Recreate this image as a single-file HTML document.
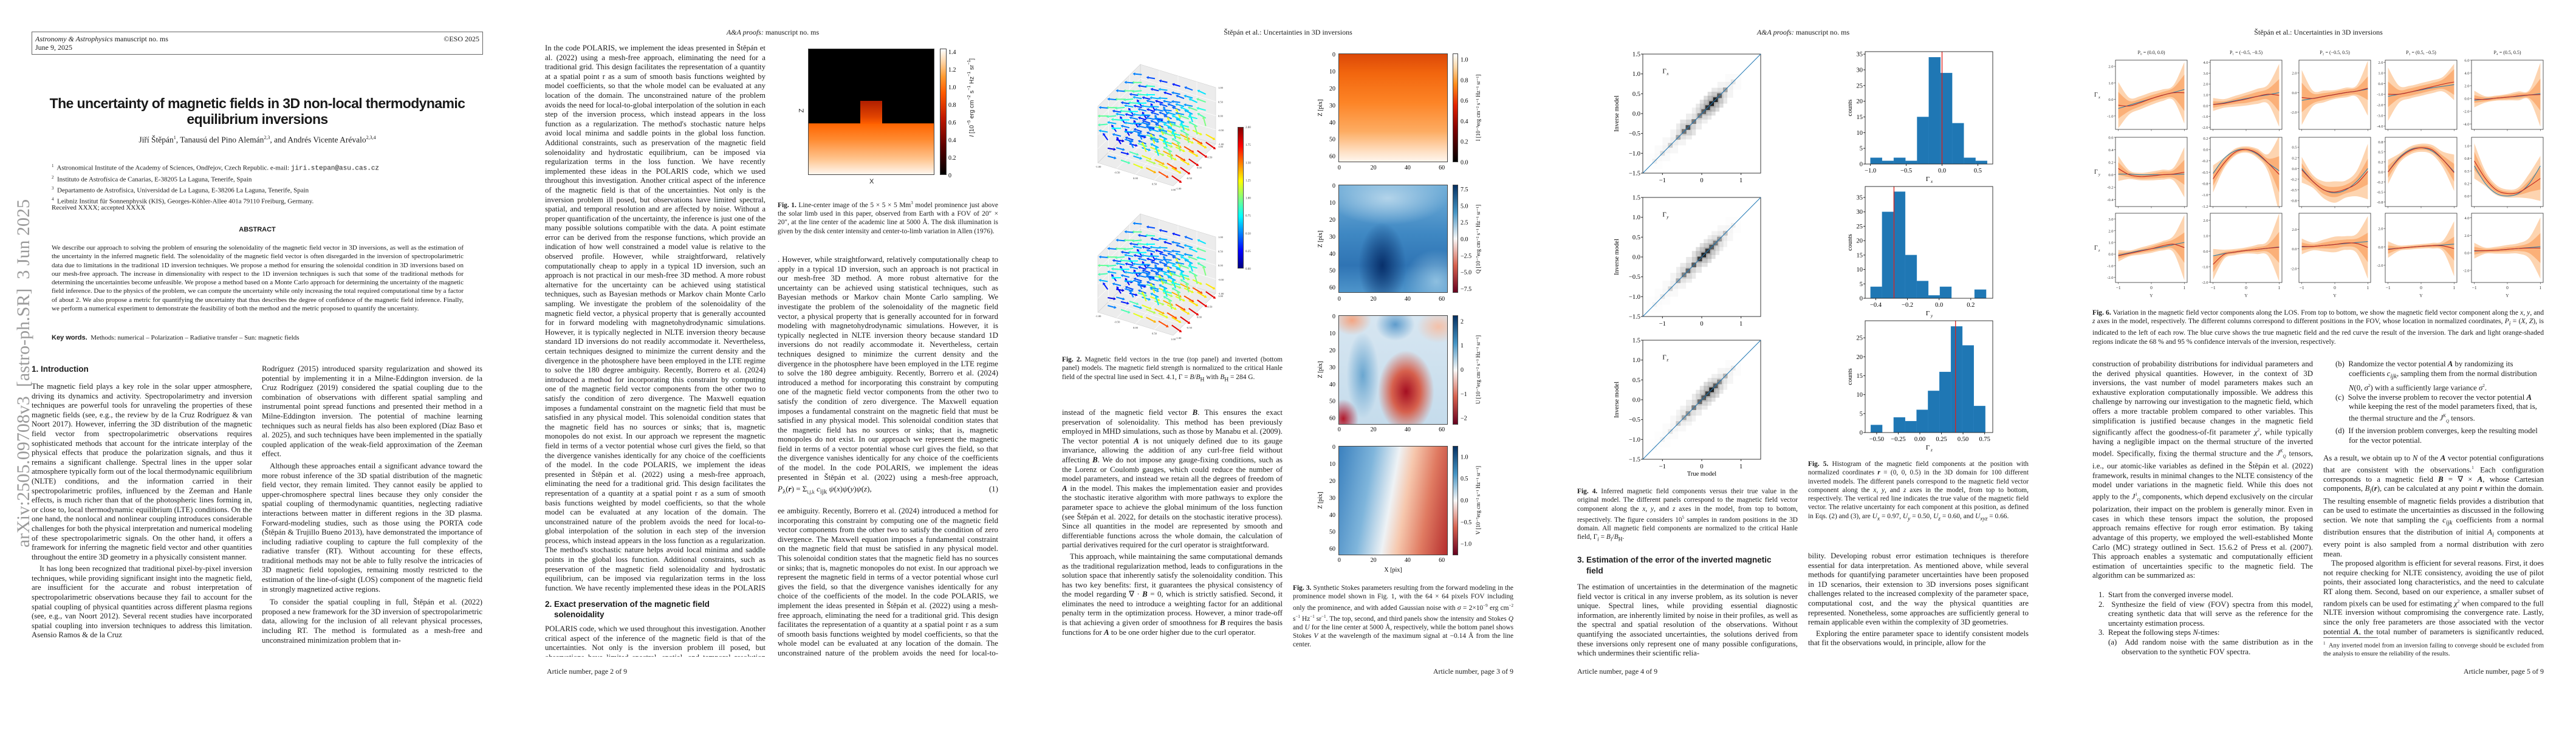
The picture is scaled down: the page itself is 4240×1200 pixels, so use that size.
<!DOCTYPE html>
<html lang="en"><head><meta charset="utf-8">
<style>
body{margin:0;width:4240px;height:1200px;position:relative;background:#fff;overflow:hidden;font-family:"Liberation Serif",serif;color:#1a1a1a}
.a{position:absolute}
.col{position:absolute;width:363px;font-size:12.8px;line-height:15.6px;text-align:justify;hyphens:auto;overflow:hidden}
.col p{margin:0;text-indent:13px}
.col p.ni{text-indent:0}
.cap{position:absolute;font-size:11.4px;line-height:14.3px;text-align:justify;hyphens:auto;overflow:hidden}
.hdr{position:absolute;top:46px;width:848px;text-align:center;font-size:12px}
.ftr{position:absolute;top:1098px;font-size:12px}
.sans{font-family:"Liberation Sans",sans-serif}
.hm{position:absolute;border:1px solid #444;box-sizing:border-box}
.cb{position:absolute;border:1px solid #444;box-sizing:border-box}
</style></head><body>

<!-- ============ PAGE 1 ============ -->
<div class="a" style="left:0;top:0;width:848px;height:1200px">
  <div class="a" style="left:52px;top:52px;width:743px;height:38px;border:1px solid #666;box-sizing:border-box;font-size:12px;line-height:14px;padding:4px 5px">
    <div><i>Astronomy &amp; Astrophysics</i> manuscript no. ms</div><div>June 9, 2025</div>
    <div class="a" style="right:5px;top:4px">©ESO 2025</div>
  </div>
  <div class="a sans" style="left:52px;top:157px;width:743px;text-align:center;font-size:23px;font-weight:bold;line-height:26px;letter-spacing:-0.6px">The uncertainty of magnetic fields in 3D non-local thermodynamic<br>equilibrium inversions</div>
  <div class="a" style="left:52px;top:222px;width:743px;text-align:center;font-size:13.5px">Jiří Štěpán<sup style="font-size:8px">1</sup>, Tanausú del Pino Alemán<sup style="font-size:8px">2,3</sup>, and Andrés Vicente Arévalo<sup style="font-size:8px">2,3,4</sup></div>
  <div class="a" style="left:85px;top:266px;width:700px;font-size:11px;line-height:14.3px">
    <div><sup style="font-size:7px">1</sup>&nbsp; Astronomical Institute of the Academy of Sciences, Ondřejov, Czech Republic. e-mail: <span style="font-family:'Liberation Mono',monospace">jiri.stepan@asu.cas.cz</span></div>
    <div><sup style="font-size:7px">2</sup>&nbsp; Instituto de Astrofísica de Canarias, E-38205 La Laguna, Tenerife, Spain</div>
    <div><sup style="font-size:7px">3</sup>&nbsp; Departamento de Astrofísica, Universidad de La Laguna, E-38206 La Laguna, Tenerife, Spain</div>
    <div><sup style="font-size:7px">4</sup>&nbsp; Leibniz Institut für Sonnenphysik (KIS), Georges-Köhler-Allee 401a 79110 Freiburg, Germany.</div>
  </div>
  <div class="a" style="left:85px;top:336px;font-size:11px">Received XXXX; accepted XXXX</div>
  <div class="a sans" style="left:52px;top:372px;width:743px;text-align:center;font-size:11px;font-weight:bold">ABSTRACT</div>
  <div class="cap" style="left:85px;top:401px;width:678px;font-size:11px;line-height:14.3px">We describe our approach to solving the problem of ensuring the solenoidality of the magnetic field vector in 3D inversions, as well as the estimation of the uncertainty in the inferred magnetic field. The solenoidality of the magnetic field vector is often disregarded in the inversion of spectropolarimetric data due to limitations in the traditional 1D inversion techniques. We propose a method for ensuring the solenoidal condition in 3D inversions based on our mesh-free approach. The increase in dimensionality with respect to the 1D inversion techniques is such that some of the traditional methods for determining the uncertainties become unfeasible. We propose a method based on a Monte Carlo approach for determining the uncertainty of the magnetic field inference. Due to the physics of the problem, we can compute the uncertainty while only increasing the total required computational time by a factor of about 2. We also propose a metric for quantifying the uncertainty that thus describes the degree of confidence of the magnetic field inference. Finally, we perform a numerical experiment to demonstrate the feasibility of both the method and the metric proposed to quantify the uncertainty.</div>
  <div class="a" style="left:85px;top:550px;font-size:11px"><b class="sans">Key words.</b>&nbsp; Methods: numerical – Polarization – Radiative transfer – Sun: magnetic fields</div>
  <div class="a sans" style="left:52px;top:600px;font-size:13.5px;font-weight:bold">1. Introduction</div>
  <div class="col" style="left:52px;top:629px;height:452px">
    <p class="ni">The magnetic field plays a key role in the solar upper atmosphere, driving its dynamics and activity. Spectropolarimetry and inversion techniques are powerful tools for unraveling the properties of these magnetic fields (see, e.g., the review by de la Cruz Rodríguez &amp; van Noort 2017). However, inferring the 3D distribution of the magnetic field vector from spectropolarimetric observations requires sophisticated methods that account for the intricate interplay of the physical effects that produce the polarization signals, and thus it remains a significant challenge. Spectral lines in the upper solar atmosphere typically form out of the local thermodynamic equilibrium (NLTE) conditions, and the information carried in their spectropolarimetric profiles, influenced by the Zeeman and Hanle effects, is much richer than that of the photospheric lines forming in, or close to, local thermodynamic equilibrium (LTE) conditions. On the one hand, the nonlocal and nonlinear coupling introduces considerable challenges for both the physical interpretation and numerical modeling of these spectropolarimetric signals. On the other hand, it offers a framework for inferring the magnetic field vector and other quantities throughout the entire 3D geometry in a physically consistent manner.</p>
    <p style="margin-top:4px">It has long been recognized that traditional pixel-by-pixel inversion techniques, while providing significant insight into the magnetic field, are insufficient for the accurate and robust interpretation of spectropolarimetric observations because they fail to account for the spatial coupling of physical quantities across different plasma regions (see, e.g., van Noort 2012). Several recent studies have incorporated spatial coupling into inversion techniques to address this limitation. Asensio Ramos &amp; de la Cruz</p>
  </div>
  <div class="col" style="left:431px;top:600px;height:481px">
    <p class="ni">Rodríguez (2015) introduced sparsity regularization and showed its potential by implementing it in a Milne-Eddington inversion. de la Cruz Rodríguez (2019) considered the spatial coupling due to the combination of observations with different spatial sampling and instrumental point spread functions and presented their method in a Milne-Eddington inversion. The potential of machine learning techniques such as neural fields has also been explored (Díaz Baso et al. 2025), and such techniques have been implemented in the spatially coupled application of the weak-field approximation of the Zeeman effect.</p>
    <p style="margin-top:4px">Although these approaches entail a significant advance toward the more robust inference of the 3D spatial distribution of the magnetic field vector, they remain limited. They cannot easily be applied to upper-chromosphere spectral lines because they only consider the spatial coupling of thermodynamic quantities, neglecting radiative interactions between matter in different regions in the 3D plasma. Forward-modeling studies, such as those using the PORTA code (Štěpán &amp; Trujillo Bueno 2013), have demonstrated the importance of including radiative coupling to capture the full complexity of the radiative transfer (RT). Without accounting for these effects, traditional methods may not be able to fully resolve the intricacies of 3D magnetic field topologies, remaining mostly restricted to the estimation of the line-of-sight (LOS) component of the magnetic field in strongly magnetized active regions.</p>
    <p style="margin-top:6px">To consider the spatial coupling in full, Štěpán et al. (2022) proposed a new framework for the 3D inversion of spectropolarimetric data, allowing for the inclusion of all relevant physical processes, including RT. The method is formulated as a mesh-free and unconstrained minimization problem that in-</p>
  </div>
  <div class="ftr" style="right:3445px">Article number, page 1 of 9</div>
  <div class="a" style="left:22px;top:328px;writing-mode:vertical-rl;transform:rotate(180deg);white-space:nowrap;font-size:30px;line-height:34px;color:#9a9a9a">arXiv:2505.09708v3&nbsp; [astro-ph.SR]&nbsp; 3 Jun 2025</div>
</div>

<!-- ============ PAGE 2 ============ -->
<div class="hdr" style="left:848px"><i>A&amp;A proofs:</i> manuscript no. ms</div>
<div class="col fill" data-off="0" style="left:897px;top:72px;height:905px"></div>
<div class="a sans" style="left:897px;top:986px;width:363px;font-size:13.5px;font-weight:bold;line-height:17px">2. Exact preservation of the magnetic field<br>&nbsp;&nbsp;&nbsp;&nbsp;solenoidality</div>
<div class="col fill" data-off="900" style="left:897px;top:1028px;height:53px"></div>
<div class="hm" style="left:1330px;top:80px;width:208px;height:208px;background:linear-gradient(#000 0,#000 59%,#ff6400 59.5%,#ff8a30 72%,#ffc590 88%,#fff7f0 100%)">
  <div class="a" style="left:85px;top:85px;width:36px;height:38px;background:linear-gradient(#b01e00,#e24400 70%,#ff5f00)"></div>
</div>
<div class="cb" style="left:1547px;top:80px;width:11px;height:208px;background:linear-gradient(to top,#000 0%,#5a0000 22%,#c01800 45%,#ff5a00 65%,#ff9a30 78%,#ffd5a8 90%,#fff 100%)"></div>
<div class="a sans" style="left:1316px;top:176px;font-size:11px;transform:rotate(-90deg)">Z</div>
<div class="a sans" style="left:1431px;top:293px;font-size:11px">X</div>
<div class="a sans" style="left:1592px;top:96px;writing-mode:vertical-rl;transform:rotate(180deg);white-space:nowrap;font-size:10px"><i>I</i> [10<sup style="font-size:7px">−5</sup> erg cm<sup style="font-size:7px">−2</sup> s<sup style="font-size:7px">−1</sup> Hz<sup style="font-size:7px">−1</sup> sr<sup style="font-size:7px">−1</sup>]</div>
<div class="cap" style="left:1280px;top:327px;width:363px"><b>Fig. 1.</b> Line-center image of the 5 × 5 × 5 Mm<sup style="font-size:7px">3</sup> model prominence just above the solar limb used in this paper, observed from Earth with a FOV of 20″ × 20″, at the line center of the academic line at 5000 Å. The disk illumination is given by the disk center intensity and center-to-limb variation in Allen (1976).</div>
<div class="col fill" data-off="1500" style="left:1280px;top:420px;height:373px"></div>
<div class="a" style="left:1280px;top:797px;width:363px;font-size:13px"><i>P</i><sub>λ</sub>(<b><i>r</i></b>) = Σ<sub style="font-size:8px">i,j,k</sub> <i>c</i><sub>ijk</sub> <i>ψ</i>(<i>x</i>)<i>ψ</i>(<i>y</i>)<i>ψ</i>(<i>z</i>),<span style="float:right">(1)</span></div>
<div class="col fill" data-off="2300" style="left:1280px;top:834px;height:247px"></div>
<div class="ftr" style="left:900px">Article number, page 2 of 9</div>

<!-- ============ PAGE 3 ============ -->
<div class="hdr" style="left:1696px">Štěpán et al.: Uncertainties in 3D inversions</div>
<div class="cb" style="left:2037px;top:209px;width:10px;height:233px;background:linear-gradient(to top,#000080 0%,#0000ff 12%,#00ffff 37%,#ffff00 62%,#ff0000 87%,#800000 100%)"></div>
<div class="cap" style="left:1748px;top:585px;width:363px"><b>Fig. 2.</b> Magnetic field vectors in the true (top panel) and inverted (bottom panel) models. The magnetic field strength is normalized to the critical Hanle field of the spectral line used in Sect. 4.1, Γ = <i>B</i>/<i>B</i><sub>H</sub> with <i>B</i><sub>H</sub> = 284 G.</div>
<div class="col" style="left:1748px;top:672px;height:409px">
  <p class="ni">instead of the magnetic field vector <b><i>B</i></b>. This ensures the exact preservation of solenoidality. This method has been previously employed in MHD simulations, such as those by Manabu et al. (2009). The vector potential <b><i>A</i></b> is not uniquely defined due to its gauge invariance, allowing the addition of any curl-free field without affecting <b><i>B</i></b>. We do not impose any gauge-fixing conditions, such as the Lorenz or Coulomb gauges, which could reduce the number of model parameters, and instead we retain all the degrees of freedom of <b><i>A</i></b> in the model. This makes the implementation easier and provides the stochastic iterative algorithm with more pathways to explore the parameter space to achieve the global minimum of the loss function (see Štěpán et al. 2022, for details on the stochastic iterative process). Since all quantities in the model are represented by smooth and differentiable functions across the whole domain, the calculation of partial derivatives required for the curl operator is straightforward.</p>
  <p style="margin-top:3px">This approach, while maintaining the same computational demands as the traditional regularization method, leads to configurations in the solution space that inherently satisfy the solenoidality condition. This has two key benefits: first, it guarantees the physical consistency of the model regarding ∇ · <b><i>B</i></b> = 0, which is strictly satisfied. Second, it eliminates the need to introduce a weighting factor for an additional penalty term in the optimization process. However, a minor trade-off is that achieving a given order of smoothness for <b><i>B</i></b> requires the basis functions for <b><i>A</i></b> to be one order higher due to the curl operator.</p>
</div>
<div class="hm" style="left:2203px;top:88px;width:180px;height:179px;background:linear-gradient(#dc4808,#f2660e 18%,#fd8426 45%,#fdac62 72%,#fee3ca 92%,#fff6ee 100%)"></div>
<div class="hm" style="left:2203px;top:304px;width:180px;height:178px;background:radial-gradient(ellipse 22% 40% at 40% 75%,#08306b,rgba(8,48,107,0) 100%),radial-gradient(ellipse 55% 25% at 45% 12%,#b3d4ea,rgba(179,212,234,0) 100%),radial-gradient(ellipse 30% 30% at 90% 90%,#8dbfe0,rgba(141,191,224,0) 100%),linear-gradient(#74b0d9,#3f88c3 45%,#2f74b4 75%,#4e95cb)"></div>
<div class="hm" style="left:2203px;top:519px;width:180px;height:180px;background:radial-gradient(ellipse 26% 38% at 62% 70%,#a50f22,#d6604d 50%,rgba(244,165,130,0) 100%),radial-gradient(ellipse 14% 18% at 4% 95%,#b2182b,rgba(214,96,77,0) 100%),radial-gradient(ellipse 18% 14% at 12% 4%,#f4a582,rgba(244,165,130,0) 100%),radial-gradient(ellipse 20% 15% at 92% 10%,#f4c0a8,rgba(244,165,130,0) 100%),radial-gradient(ellipse 15% 40% at 22% 55%,#6aa6d0,rgba(106,166,208,0) 100%),radial-gradient(ellipse 18% 15% at 52% 8%,#5e9ccc,rgba(94,156,204,0) 100%),linear-gradient(#d7e6f1,#c5dcec)"></div>
<div class="hm" style="left:2203px;top:734px;width:180px;height:180px;background:linear-gradient(100deg,#3a80be 0%,#7fb5db 28%,#eef2f5 48%,#f6c7ad 60%,#e07b62 78%,#b52e2e 100%)"></div>
<div class="cb" style="left:2391px;top:88px;width:9px;height:179px;background:linear-gradient(to top,#000,#7f0000 30%,#e02000 52%,#ff8c1a 72%,#ffd8a8 88%,#fff)"></div>
<div class="cb" style="left:2391px;top:304px;width:9px;height:178px;background:linear-gradient(to top,#67001f,#d6604d 25%,#f7f7f7 50%,#4393c3 75%,#053061)"></div>
<div class="cb" style="left:2391px;top:519px;width:9px;height:180px;background:linear-gradient(to top,#67001f,#d6604d 25%,#f7f7f7 50%,#4393c3 75%,#053061)"></div>
<div class="cb" style="left:2391px;top:734px;width:9px;height:180px;background:linear-gradient(to top,#67001f,#d6604d 25%,#f7f7f7 50%,#4393c3 75%,#053061)"></div>
<div class="cap" style="left:2128px;top:961px;width:363px"><b>Fig. 3.</b> Synthetic Stokes parameters resulting from the forward modeling in the prominence model shown in Fig. 1, with the 64 × 64 pixels FOV including only the prominence, and with added Gaussian noise with <i>σ</i> = 2×10<sup style="font-size:7px">−9</sup> erg cm<sup style="font-size:7px">−2</sup> s<sup style="font-size:7px">−1</sup> Hz<sup style="font-size:7px">−1</sup> sr<sup style="font-size:7px">−1</sup>. The top, second, and third panels show the intensity and Stokes <i>Q</i> and <i>U</i> for the line center at 5000 Å, respectively, while the bottom panel shows Stokes <i>V</i> at the wavelength of the maximum signal at −0.14 Å from the line center.</div>
<div class="ftr" style="right:1749px">Article number, page 3 of 9</div>

<!-- ============ PAGE 4 ============ -->
<div class="hdr" style="left:2544px"><i>A&amp;A proofs:</i> manuscript no. ms</div>
<div class="cap" style="left:2596px;top:802px;width:363px"><b>Fig. 4.</b> Inferred magnetic field components versus their true value in the original model. The different panels correspond to the magnetic field vector component along the <i>x</i>, <i>y</i>, and <i>z</i> axes in the model, from top to bottom, respectively. The figure considers 10<sup style="font-size:7px">5</sup> samples in random positions in the 3D domain. All magnetic field components are normalized to the critical Hanle field, Γ<sub><i>i</i></sub> = <i>B<sub>i</sub></i>/<i>B</i><sub>H</sub>.</div>
<div class="cap" style="left:2976px;top:757px;width:363px"><b>Fig. 5.</b> Histogram of the magnetic field components at the position with normalized coordinates <b><i>r</i></b> = (0, 0, 0.5) in the 3D domain for 100 different inverted models. The different panels correspond to the magnetic field vector component along the <i>x</i>, <i>y</i>, and <i>z</i> axes in the model, from top to bottom, respectively. The vertical red line indicates the true value of the magnetic field vector. The relative uncertainty for each component at this position, as defined in Eqs. (2) and (3), are <i>U<sub>x</sub></i> = 0.97, <i>U<sub>y</sub></i> = 0.50, <i>U<sub>z</sub></i> = 0.60, and <i>U<sub>xyz</sub></i> = 0.66.</div>
<div class="a sans" style="left:2596px;top:913px;width:370px;font-size:13.5px;font-weight:bold;line-height:18px">3. Estimation of the error of the inverted magnetic<br>&nbsp;&nbsp;&nbsp;&nbsp;field</div>
<div class="col" style="left:2596px;top:959px;height:122px">
  <p class="ni">The estimation of uncertainties in the determination of the magnetic field vector is critical in any inverse problem, as its solution is never unique. Spectral lines, while providing essential diagnostic information, are inherently limited by noise in their profiles, as well as the spectral and spatial resolution of the observations. Without quantifying the associated uncertainties, the solutions derived from these inversions only represent one of many possible configurations, which undermines their scientific relia-</p>
</div>
<div class="col" style="left:2976px;top:908px;height:173px">
  <p class="ni">bility. Developing robust error estimation techniques is therefore essential for data interpretation. As mentioned above, while several methods for quantifying parameter uncertainties have been proposed in 1D scenarios, their extension to 3D inversions poses significant challenges related to the increased complexity of the parameter space, computational cost, and the way the physical quantities are represented. Nonetheless, some approaches are sufficiently general to remain applicable even within the complexity of 3D geometries.</p>
  <p style="margin-top:3px">Exploring the entire parameter space to identify consistent models that fit the observations would, in principle, allow for the</p>
</div>
<div class="ftr" style="left:2596px">Article number, page 4 of 9</div>

<!-- ============ PAGE 5 ============ -->
<div class="hdr" style="left:3392px">Štěpán et al.: Uncertainties in 3D inversions</div>
<div class="cap" style="left:3444px;top:508px;width:743px;font-size:11.6px;line-height:14.4px"><b>Fig. 6.</b> Variation in the magnetic field vector components along the LOS. From top to bottom, we show the magnetic field vector component along the <i>x</i>, <i>y</i>, and <i>z</i> axes in the model, respectively. The different columns correspond to different positions in the FOV, whose location in normalized coordinates, <i>P<sub>i</sub></i> = (<i>X</i>, <i>Z</i>), is indicated to the left of each row. The blue curve shows the true magnetic field and the red curve the result of the inversion. The dark and light orange-shaded regions indicate the 68 % and 95 % confidence intervals of the inversion, respectively.</div>
<div class="col" style="left:3444px;top:592px;height:489px">
  <p class="ni">construction of probability distributions for individual parameters and the derived physical quantities. However, in the context of 3D inversions, the vast number of model parameters makes such an exhaustive exploration computationally impossible. We address this challenge by narrowing our investigation to the magnetic field, which offers a more tractable problem compared to other variables. This simplification is justified because changes in the magnetic field significantly affect the goodness-of-fit parameter <i>χ</i><sup style="font-size:7px">2</sup>, while typically having a negligible impact on the thermal structure of the inverted model. Specifically, fixing the thermal structure and the <i>J<sup style="font-size:7px">K</sup><sub style="font-size:7px">Q</sub></i> tensors, i.e., our atomic-like variables as defined in the Štěpán et al. (2022) framework, results in minimal changes to the NLTE consistency of the model under variations in the magnetic field. While this does not apply to the <i>J</i><sup style="font-size:7px">1</sup><sub style="font-size:7px">Q</sub> components, which depend exclusively on the circular polarization, their impact on the problem is generally minor. Even in cases in which these tensors impact the solution, the proposed approach remains effective for rough error estimation. By taking advantage of this property, we employed the well-established Monte Carlo (MC) strategy outlined in Sect. 15.6.2 of Press et al. (2007). This approach enables a systematic and computationally efficient estimation of uncertainties specific to the magnetic field. The algorithm can be summarized as:</p>
  <div style="margin-top:16px;padding-left:26px;text-indent:-16px">1.&nbsp; Start from the converged inverse model.</div>
  <div style="padding-left:26px;text-indent:-16px">2.&nbsp; Synthesize the field of view (FOV) spectra from this model, creating synthetic data that will serve as the reference for the uncertainty estimation process.</div>
  <div style="padding-left:26px;text-indent:-16px">3.&nbsp; Repeat the following steps <i>N</i>-times:</div>
  <div style="padding-left:48px;text-indent:-22px">(a)&nbsp; Add random noise with the same distribution as in the observation to the synthetic FOV spectra.</div>
</div>
<div class="col" style="left:3824px;top:592px;height:453px">
  <div style="padding-left:42px;text-indent:-22px;text-align:left">(b)&nbsp; Randomize the vector potential <b><i>A</i></b> by randomizing its coefficients <i>c<sub>ijk</sub></i>, sampling them from the normal distribution <i>N</i>(0, <i>σ</i><sup style="font-size:7px">2</sup>) with a sufficiently large variance <i>σ</i><sup style="font-size:7px">2</sup>.</div>
  <div style="padding-left:42px;text-indent:-22px;text-align:left">(c)&nbsp; Solve the inverse problem to recover the vector potential <b><i>A</i></b> while keeping the rest of the model parameters fixed, that is, the thermal structure and the <i>J<sup style="font-size:7px">K</sup><sub style="font-size:7px">Q</sub></i> tensors.</div>
  <div style="padding-left:42px;text-indent:-22px;text-align:left">(d)&nbsp; If the inversion problem converges, keep the resulting model for the vector potential.</div>
  <p class="ni" style="margin-top:14px">As a result, we obtain up to <i>N</i> of the <b><i>A</i></b> vector potential configurations that are consistent with the observations.<sup style="font-size:7px">1</sup> Each configuration corresponds to a magnetic field <b><i>B</i></b> = ∇ × <b><i>A</i></b>, whose Cartesian components, <i>B<sub>i</sub></i>(<b><i>r</i></b>), can be calculated at any point <b><i>r</i></b> within the domain. The resulting ensemble of magnetic fields provides a distribution that can be used to estimate the uncertainties as discussed in the following section. We note that sampling the <i>c<sub>ijk</sub></i> coefficients from a normal distribution ensures that the distribution of initial <i>A<sub>i</sub></i> components at every point is also sampled from a normal distribution with zero mean.</p>
  <p>The proposed algorithm is efficient for several reasons. First, it does not require checking for NLTE consistency, avoiding the use of pilot points, their associated long characteristics, and the need to calculate RT along them. Second, based on our experience, a smaller subset of random pixels can be used for estimating <i>χ</i><sup style="font-size:7px">2</sup> when compared to the full NLTE inversion without compromising the convergence rate. Lastly, since the only free parameters are those associated with the vector potential <b><i>A</i></b>, the total number of parameters is significantly reduced, typically by about a factor of 5 in relatively simple models like the example</p>
</div>
<div class="a" style="left:3824px;top:1049px;width:90px;border-top:1px solid #555"></div>
<div class="cap" style="left:3824px;top:1053px;width:363px;font-size:10.5px;line-height:13px"><sup style="font-size:7px">1</sup>&nbsp; Any inverted model from an inversion failing to converge should be excluded from the analysis to ensure the reliability of the results.</div>
<div class="ftr" style="right:53px">Article number, page 5 of 9</div>

<svg id="gfx" width="4240" height="1200" style="position:absolute;left:0;top:0;pointer-events:none" xmlns="http://www.w3.org/2000/svg"></svg>

<script>
// ---------- shared filler body text for page 2 columns ----------
const BODY = "In the code POLARIS, we implement the ideas presented in Štěpán et al. (2022) using a mesh-free approach, eliminating the need for a traditional grid. This design facilitates the representation of a quantity at a spatial point r as a sum of smooth basis functions weighted by model coefficients, so that the whole model can be evaluated at any location of the domain. The unconstrained nature of the problem avoids the need for local-to-global interpolation of the solution in each step of the inversion process, which instead appears in the loss function as a regularization. The method's stochastic nature helps avoid local minima and saddle points in the global loss function. Additional constraints, such as preservation of the magnetic field solenoidality and hydrostatic equilibrium, can be imposed via regularization terms in the loss function. We have recently implemented these ideas in the POLARIS code, which we used throughout this investigation. Another critical aspect of the inference of the magnetic field is that of the uncertainties. Not only is the inversion problem ill posed, but observations have limited spectral, spatial, and temporal resolution and are affected by noise. Without a proper quantification of the uncertainty, the inference is just one of the many possible solutions compatible with the data. A point estimate error can be derived from the response functions, which provide an indication of how well constrained a model value is relative to the observed profile. However, while straightforward, relatively computationally cheap to apply in a typical 1D inversion, such an approach is not practical in our mesh-free 3D method. A more robust alternative for the uncertainty can be achieved using statistical techniques, such as Bayesian methods or Markov chain Monte Carlo sampling. We investigate the problem of the solenoidality of the magnetic field vector, a physical property that is generally accounted for in forward modeling with magnetohydrodynamic simulations. However, it is typically neglected in NLTE inversion theory because standard 1D inversions do not readily accommodate it. Nevertheless, certain techniques designed to minimize the current density and the divergence in the photosphere have been employed in the LTE regime to solve the 180 degree ambiguity. Recently, Borrero et al. (2024) introduced a method for incorporating this constraint by computing one of the magnetic field vector components from the other two to satisfy the condition of zero divergence. The Maxwell equation imposes a fundamental constraint on the magnetic field that must be satisfied in any physical model. This solenoidal condition states that the magnetic field has no sources or sinks; that is, magnetic monopoles do not exist. In our approach we represent the magnetic field in terms of a vector potential whose curl gives the field, so that the divergence vanishes identically for any choice of the coefficients of the model. ";
document.querySelectorAll('.fill').forEach(function(el){
  const off = parseInt(el.getAttribute('data-off'));
  const t = BODY + BODY + BODY;
  el.textContent = t.slice(off, off + 5200);
});

// ---------- SVG helpers ----------
const NS = 'http://www.w3.org/2000/svg';
const svg = document.getElementById('gfx');
function mk(tag, attrs, parent){ const e = document.createElementNS(NS, tag); for (const k in attrs) e.setAttribute(k, attrs[k]); (parent || svg).appendChild(e); return e; }
function txt(x, y, s, attrs, parent){ const e = mk('text', Object.assign({x: x, y: y}, attrs || {}), parent); e.textContent = s; return e; }
function fmt(v, d){ return (v < 0 ? '\u2212' : '') + Math.abs(v).toFixed(d); }
function lin(d0, d1, r0, r1){ return function(v){ return r0 + (v - d0) / (d1 - d0) * (r1 - r0); }; }
function seg(pts){ let d = ''; const n = pts.length;
  for (let i = 0; i < n - 1; i++){ const p0 = pts[Math.max(i-1,0)], p1 = pts[i], p2 = pts[i+1], p3 = pts[Math.min(i+2,n-1)];
    d += ' C' + (p1[0]+(p2[0]-p0[0])/6).toFixed(1) + ',' + (p1[1]+(p2[1]-p0[1])/6).toFixed(1) + ' ' + (p2[0]-(p3[0]-p1[0])/6).toFixed(1) + ',' + (p2[1]-(p3[1]-p1[1])/6).toFixed(1) + ' ' + p2[0].toFixed(1) + ',' + p2[1].toFixed(1); }
  return d; }
function smoothPath(pts){ return 'M' + pts[0][0].toFixed(1) + ',' + pts[0][1].toFixed(1) + seg(pts); }

// ---------- Fig 1 colorbar ticks ----------
const fig1CbTicks = [0, 0.2, 0.4, 0.6, 0.8, 1.0, 1.2, 1.4];
const fig1Y = lin(0, 1.4, 288, 85);
fig1CbTicks.forEach(function(v){
  const t = txt(1561, fig1Y(v) + 4, v === 0 ? '0' : v.toFixed(1), {'font-size': 10});
  
  
});

// ---------- Fig 2: 3D quiver plots ----------
const quivMag = [
  [0.50,0.40,0.35,0.30,0.45,0.70],
  [0.95,0.85,0.60,0.50,0.60,0.95],
  [0.90,0.75,0.60,0.50,0.55,0.80],
  [0.60,0.50,0.40,0.45,0.60,0.90],
  [0.30,0.25,0.50,1.20,0.70,1.00],
  [0.20,0.30,0.60,1.10,1.20,1.30],
  [0.50,0.90,1.20,1.40,1.60,1.80]];
const quivAng = [195, 190, 185, 200, 245, 20, 25];
const quivDepth = [0.8, 0.4, 0.0, -0.4, -0.8];
function jet(t){ t = Math.max(0, Math.min(1, t));
  const r = Math.max(0, Math.min(1, 1.5 - Math.abs(4*t - 3))), g = Math.max(0, Math.min(1, 1.5 - Math.abs(4*t - 2))), b = Math.max(0, Math.min(1, 1.5 - Math.abs(4*t - 1)));
  return 'rgb(' + Math.round(r*255) + ',' + Math.round(g*255) + ',' + Math.round(b*255) + ')'; }
function quiver(ox, oy, name){
  const ex = [62, 19], ey = [35, -34.5], ez = [0, -46.5];
  const P = function(x, y, z){ return [ox + x*ex[0] + y*ey[0] + z*ez[0], oy + x*ex[1] + y*ey[1] + z*ez[1]]; };
  const g = mk('g', {});
  
  
  const faces = [[[-1,-1,-1],[1,-1,-1],[1,1,-1],[-1,1,-1]], [[-1,1,-1],[1,1,-1],[1,1,1],[-1,1,1]], [[-1,-1,-1],[-1,1,-1],[-1,1,1],[-1,-1,1]]];
  faces.forEach(function(f){ const pts = f.map(function(p){ return P(p[0],p[1],p[2]).join(','); }).join(' ');
    const pg = mk('polygon', {points: pts, fill: '#ececec', stroke: '#d0d0d0', 'stroke-width': 0.6}, g);
    
     });
  [-0.5, 0, 0.5].forEach(function(v){
    [[[v,1,-1],[v,1,1]], [[-1,1,v],[1,1,v]], [[-1,v,-1],[-1,v,1]], [[-1,-1,v],[-1,1,v]], [[v,-1,-1],[v,1,-1]], [[-1,v,-1],[1,v,-1]]].forEach(function(l){
      const a = P(l[0][0],l[0][1],l[0][2]), b = P(l[1][0],l[1][1],l[1][2]);
      const gl = mk('line', {x1: a[0], y1: a[1], x2: b[0], y2: b[1], stroke: '#ffffff', 'stroke-width': 0.7}, g);
      
       }); });
  const xs = [-0.85, -0.5, -0.17, 0.17, 0.5, 0.85], zs = [0.85, 0.57, 0.28, 0, -0.28, -0.57, -0.85];
  quivDepth.forEach(function(yv){
    zs.forEach(function(zv, r){ xs.forEach(function(xv, c){
      const m = quivMag[r][c], p = P(xv, yv, zv), ang = (quivAng[r] + (c - 2.5) * 4) * Math.PI / 180, L = 9 + m * 4;
      const x2 = p[0] + Math.cos(ang) * L, y2 = p[1] + Math.sin(ang) * L, col = jet(m / 2);
      const ln = mk('line', {x1: p[0], y1: p[1], x2: x2, y2: y2, stroke: col, 'stroke-width': 2}, g);
      
      
      const hx = Math.cos(ang), hy = Math.sin(ang);
      const hd = mk('polygon', {points: (x2+hx*4)+','+(y2+hy*4)+' '+(x2-hy*2.5)+','+(y2+hx*2.5)+' '+(x2+hy*2.5)+','+(y2-hx*2.5), fill: col}, g);
      
      
    }); }); });
  [-1, -0.5, 0, 0.5, 1].forEach(function(v){
    const a = P(v, -1, -1); const t = txt(a[0] - 4, a[1] + 8, v.toFixed(2), {'font-size': 4.5, fill: '#333'}, g);
    
    
    const b = P(1, v, -1); const t2 = txt(b[0] + 4, b[1] + 6, v.toFixed(2), {'font-size': 4.5, fill: '#333'}, g);
    
    
    const c = P(1, 1, v); const t3 = txt(c[0] + 4, c[1] + 2, v.toFixed(2), {'font-size': 4.5, fill: '#333'}, g);
    
    
  });
}
quiver(1904, 206, 'fig2-true-field-3d');
quiver(1904, 452, 'fig2-inverted-field-3d');
const fig2CbTicks = [0, 0.25, 0.5, 0.75, 1.0, 1.25, 1.5, 1.75, 2.0];
const fig2CbY = lin(0, 2, 442, 209);
fig2CbTicks.forEach(function(v){
  const t = txt(2050, fig2CbY(v) + 2, v.toFixed(2), {'font-size': 5, fill: '#333'});
  
  
});

// ---------- Fig 3 axes ----------
const fig3Tops = [88, 304, 519, 734];
const fig3PixTicks = [0, 10, 20, 30, 40, 50, 60];
const fig3XTicks = [0, 20, 40, 60];
const fig3CbTicks = [[0.0,0.2,0.4,0.6,0.8,1.0],[-7.5,-5.0,-2.5,0.0,2.5,5.0,7.5],[-2,-1,0,1,2],[-1.0,-0.5,0.0,0.5,1.0]];
const fig3CbRange = [[0,1.06],[-8.2,8.2],[-2.25,2.25],[-1.25,1.25]];
const fig3CbDec = [1,1,0,1];
const fig3Units = ['I [10\u207b\u2075erg cm\u207b\u00b2 s\u207b\u00b9 Hz\u207b\u00b9 sr\u207b\u00b9]','Q [10\u207b\u2077erg cm\u207b\u00b2 s\u207b\u00b9 Hz\u207b\u00b9 sr\u207b\u00b9]','U [10\u207b\u2077erg cm\u207b\u00b2 s\u207b\u00b9 Hz\u207b\u00b9 sr\u207b\u00b9]','V [10\u207b\u2077erg cm\u207b\u00b2 s\u207b\u00b9 Hz\u207b\u00b9 sr\u207b\u00b9]'];
fig3Tops.forEach(function(top, i){
  const h = 179, py = lin(-0.5, 63.5, top, top + h), px = lin(-0.5, 63.5, 2203, 2383);
  fig3PixTicks.forEach(function(v){
    const t = txt(2198, py(v) + 3.5, String(v), {'font-size': 10, 'text-anchor': 'end'});
    
     });
  fig3XTicks.forEach(function(v){
    const t = txt(px(v), top + h + 12, String(v), {'font-size': 10, 'text-anchor': 'middle'});
    
     });
  const yl = txt(2176, top + h/2, 'Z [pix]', {'font-size': 10, 'text-anchor': 'middle', transform: 'rotate(-90 2176 ' + (top + h/2) + ')'});
  
  
  const cy = lin(fig3CbRange[i][0], fig3CbRange[i][1], top + h, top);
  fig3CbTicks[i].forEach(function(v){
    const t = txt(2404, cy(v) + 3.5, fmt(v, fig3CbDec[i]), {'font-size': 10});
    
     });
  const ut = txt(2436, top + h/2, fig3Units[i], {'font-size': 9, 'text-anchor': 'middle', transform: 'rotate(-90 2436 ' + (top + h/2) + ')'});
  
  
});
const f3x = txt(2293, 941, 'X [pix]', {'font-size': 10, 'text-anchor': 'middle'});



// ---------- Fig 4: inverse vs true density plots ----------
const scatPos = [-1.2,-1.0,-0.8,-0.6,-0.45,-0.35,-0.2,-0.05,0.05,0.15,0.25,0.35,0.45,0.6,0.8];
const scatDenX = [0.06,0.12,0.2,0.3,0.5,0.7,0.45,0.4,0.6,0.8,0.95,0.9,0.6,0.3,0.1];
const scatDenY = [0.04,0.08,0.15,0.3,0.45,0.55,0.6,0.75,0.9,0.8,0.6,0.45,0.35,0.2,0.06];
const scatDenZ = [0.02,0.05,0.1,0.18,0.3,0.35,0.45,0.55,0.6,0.75,0.95,0.6,0.4,0.25,0.08];
const scatTicksX = [-1, 0, 1];
const scatTicksY = [-1.5, -1.0, -0.5, 0.0, 0.5, 1.0, 1.5];
const scatLabels = ['x', 'y', 'z'];
const scatTops = [89, 325, 560];
[scatDenX, scatDenY, scatDenZ].forEach(function(den, i){
  const x0 = 2704, x1 = 2898, y0 = scatTops[i], y1 = y0 + 196;
  const sx = lin(-1.5, 1.5, x0, x1), sy = lin(-1.5, 1.5, y1, y0);
  const g = mk('g', {});
  
  
  const fr = mk('rect', {x: x0, y: y0, width: x1 - x0, height: y1 - y0, fill: '#fff', stroke: '#222', 'stroke-width': 0.9}, g);
  
  
  scatPos.forEach(function(t, k){
    const s = 0.2, r = mk('rect', {x: sx(t - s), y: sy(t + s), width: sx(t + s) - sx(t - s), height: sy(t - s) - sy(t + s), fill: '#000', opacity: den[k] * 0.15}, g);
    
    
    const s2 = 0.06, r2 = mk('rect', {x: sx(t - s2), y: sy(t + s2), width: sx(t + s2) - sx(t - s2), height: sy(t - s2) - sy(t + s2), fill: '#000', opacity: den[k] * 0.85}, g);
    
    
  });
  const dl = mk('line', {x1: sx(-1.5), y1: sy(-1.5), x2: sx(1.5), y2: sy(1.5), stroke: '#1f77b4', 'stroke-width': 1}, g);
  
  
  scatTicksX.forEach(function(v){
    const tk = mk('line', {x1: sx(v), y1: y1, x2: sx(v), y2: y1 + 3, stroke: '#222'}, g);
    
    
    const t = txt(sx(v), y1 + 15, fmt(v, 0), {'font-size': 10.5, 'text-anchor': 'middle'}, g);
    
     });
  scatTicksY.forEach(function(v){
    const tk = mk('line', {x1: x0 - 3, y1: sy(v), x2: x0, y2: sy(v), stroke: '#222'}, g);
    
    
    const t = txt(x0 - 4, sy(v) + 3.5, fmt(v, 1), {'font-size': 10.5, 'text-anchor': 'end'}, g);
    
     });
  const gl = txt(sx(-1.0), sy(1.02), '\u0393', {'font-size': 11}, g);
  
  
  const gs = txt(sx(-1.0) + 7, sy(1.02) + 3, scatLabels[i], {'font-size': 7, 'font-style': 'italic'}, g);
  
  
  const yt = txt(2664, (y0 + y1) / 2, 'Inverse model', {'font-size': 10.5, 'text-anchor': 'middle', transform: 'rotate(-90 2664 ' + ((y0 + y1) / 2) + ')'}, g);
  
  
});
const f4x = txt(2801, 783, 'True model', {'font-size': 10.5, 'text-anchor': 'middle'});



// ---------- Fig 5: histograms ----------
const histXCounts = [2,1,2,1,15,34,29,13,2,1];
const histYCounts = [4,30,37,15,6,1,4,0,0,3];
const histZCounts = [2,0,4,3,6,11,16,28,23,7];
const histStarts = [-1.0, -0.433, -0.568];
const histWidths = [0.163, 0.073, 0.1325];
const histTrue = [0.0, -0.285, 0.413];
const histXDom = [[-1.073, 0.708], [-0.467, 0.339], [-0.633, 0.844]];
const histYMax = [35.8, 38.8, 29.5];
const histXTicks = [[-1.0,-0.5,0.0,0.5], [-0.4,-0.2,0.0,0.2], [-0.5,-0.25,0.0,0.25,0.5,0.75]];
const histXDec = [1, 1, 2];
const histCountTicks = [[0,5,10,15,20,25,30,35], [0,5,10,15,20,25,30,35], [0,5,10,15,20,25]];
const histBoxes = [[85, 270], [307, 491], [528, 712]];
[histXCounts, histYCounts, histZCounts].forEach(function(counts, i){
  const x0 = 3070, x1 = 3280, y0 = histBoxes[i][0], y1 = histBoxes[i][1];
  const sx = lin(histXDom[i][0], histXDom[i][1], x0, x1), sy = lin(0, histYMax[i], y1, y0);
  const g = mk('g', {});
  
  
  counts.forEach(function(c, k){
    if (c <= 0) return;
    const a = histStarts[i] + k * histWidths[i], b = a + histWidths[i];
    const r = mk('rect', {x: sx(a), y: sy(c), width: sx(b) - sx(a), height: sy(0) - sy(c), fill: '#1f77b4', stroke: '#2b83c0', 'stroke-width': 0.4}, g);
    
    
  });
  const rl = mk('line', {x1: sx(histTrue[i]), y1: y0, x2: sx(histTrue[i]), y2: y1, stroke: '#e0201b', 'stroke-width': 1.3}, g);
  
  
  const fr = mk('rect', {x: x0, y: y0, width: x1 - x0, height: y1 - y0, fill: 'none', stroke: '#222', 'stroke-width': 0.9}, g);
  
  
  histXTicks[i].forEach(function(v){
    const tk = mk('line', {x1: sx(v), y1: y1, x2: sx(v), y2: y1 + 3, stroke: '#222'}, g);
    
    
    const t = txt(sx(v), y1 + 14, fmt(v, histXDec[i]), {'font-size': 10.5, 'text-anchor': 'middle'}, g);
    
     });
  histCountTicks[i].forEach(function(v){
    const tk = mk('line', {x1: x0 - 3, y1: sy(v), x2: x0, y2: sy(v), stroke: '#222'}, g);
    
    
    const t = txt(x0 - 4, sy(v) + 3.5, String(v), {'font-size': 10.5, 'text-anchor': 'end'}, g);
    
     });
  const yt = txt(3048, (y0 + y1) / 2, 'counts', {'font-size': 10.5, 'text-anchor': 'middle', transform: 'rotate(-90 3048 ' + ((y0 + y1) / 2) + ')'}, g);
  
  
  const xt = txt(3173, y1 + 28, '\u0393', {'font-size': 11, 'text-anchor': 'middle'}, g);
  
  
  const xs2 = txt(3178, y1 + 31, scatLabels[i], {'font-size': 7, 'font-style': 'italic'}, g);
  
  
});

// ---------- Fig 6: field along LOS ----------
const fig6Y = [-1, -0.667, -0.333, 0, 0.333, 0.667, 1];
const fig6True = [
  [-0.55,-0.35,-0.15,0.05,0.25,0.42,0.6],[0.1,0.25,0.45,0.65,0.85,1.0,1.2],[-0.8,-0.6,-0.4,-0.2,0.0,0.15,0.35],[-1.2,-1.0,-0.8,-0.6,-0.4,-0.25,-0.1],[-0.3,-0.1,0.05,0.2,0.35,0.55,0.75],
  [0.01,0.01,0.0,0.0,0.0,0.005,0.01],[-0.53,-0.2,-0.03,0.0,-0.1,-0.3,-0.47],[0.0,-0.3,-0.5,-0.57,-0.5,-0.3,0.0],[0.0,0.35,0.55,0.6,0.52,0.3,0.0],[0.6,0.25,0.05,0.0,0.05,0.25,0.6],
  [-0.1,0.1,0.3,0.45,0.6,0.8,1.0],[-0.3,-0.15,-0.05,0.05,0.12,0.2,0.28],[0.2,0.25,0.35,0.45,0.55,0.65,0.75],[-0.25,-0.15,-0.05,0.05,0.12,0.2,0.3],[0.2,0.25,0.3,0.4,0.5,0.6,0.7]];
const fig6Inv = [
  [-0.35,-0.4,-0.2,0.05,0.25,0.4,0.4],[0.1,0.2,0.4,0.6,0.85,1.05,0.95],[-0.5,-0.6,-0.4,-0.2,0.0,0.15,0.45],[-1.0,-1.0,-0.8,-0.55,-0.3,-0.05,0.15],[-0.1,-0.15,0.05,0.2,0.4,0.55,0.6],
  [0.1,0.0,-0.03,-0.02,0.0,0.01,0.04],[-0.65,-0.3,-0.06,0.0,-0.08,-0.3,-0.55],[-0.03,-0.3,-0.5,-0.55,-0.48,-0.35,-0.07],[0.0,0.33,0.53,0.6,0.55,0.3,-0.02],[0.7,0.35,0.12,0.05,0.07,0.2,0.35],
  [-0.15,0.05,0.25,0.45,0.7,0.85,0.55],[-0.85,-0.2,-0.05,0.05,0.12,0.2,0.25],[0.25,0.25,0.35,0.45,0.6,0.55,0.15],[-0.3,-0.15,-0.05,0.05,0.12,0.1,-0.2],[0.25,0.25,0.3,0.4,0.5,0.55,0.55]];
const fig6W95 = [
  [1.4,0.5,0.4,0.38,0.35,0.45,1.85],[0.6,0.4,0.5,0.6,0.7,0.9,2.9],[2.8,0.8,0.6,0.45,0.5,0.6,2.8],[2.5,0.8,0.6,0.6,0.6,0.7,1.7],[1.3,0.5,0.4,0.5,0.7,0.8,5.0],
  [0.2,0.07,0.06,0.07,0.08,0.1,0.4],[0.3,0.12,0.08,0.07,0.1,0.2,0.85],[0.3,0.15,0.2,0.25,0.2,0.3,0.65],[0.3,0.12,0.1,0.1,0.12,0.2,0.45],[0.35,0.15,0.1,0.08,0.1,0.25,0.45],
  [0.5,0.25,0.3,0.35,0.4,0.7,2.8],[1.0,0.3,0.2,0.2,0.3,0.5,2.2],[0.8,0.4,0.6,0.8,0.7,1.0,3.2],[0.9,0.3,0.25,0.25,0.3,0.6,3.0],[0.9,0.35,0.4,0.5,0.6,1.2,3.5]];
const fig6W68 = [
  [0.8,0.3,0.22,0.2,0.2,0.3,1.1],[0.3,0.2,0.25,0.35,0.4,0.5,1.5],[1.5,0.5,0.35,0.3,0.3,0.35,1.2],[1.2,0.4,0.35,0.35,0.35,0.45,1.2],[0.6,0.3,0.25,0.3,0.4,0.5,2.5],
  [0.1,0.04,0.035,0.04,0.05,0.06,0.2],[0.15,0.07,0.05,0.04,0.06,0.1,0.4],[0.15,0.08,0.1,0.12,0.1,0.15,0.3],[0.15,0.06,0.05,0.05,0.06,0.1,0.22],[0.18,0.08,0.05,0.04,0.05,0.12,0.22],
  [0.25,0.15,0.15,0.2,0.25,0.4,1.3],[0.5,0.15,0.1,0.1,0.15,0.25,1.0],[0.4,0.2,0.3,0.4,0.35,0.5,1.5],[0.45,0.15,0.12,0.12,0.15,0.3,1.3],[0.45,0.2,0.2,0.25,0.3,0.6,1.7]];
const fig6YMin = [-1.81,-2.2,-3.75,-4.3,-4.85, -0.51,-1.26,-0.89,-0.86,-0.21, -2.44,-2.02,-3.43,-3.9,-3.39];
const fig6YMax = [2.37,4.2,3.3,2.2,6.0, 0.6,0.27,0.73,0.86,1.17, 3.5,2.46,3.64,3.67,4.53];
const fig6Ticks = [
  [-1,0,1,2],[-2,-1,0,1,2,3,4],[-2,0,2],[-4,-3,-2,-1,0,1,2],[-4,-2,0,2,4,6],
  [-0.4,-0.2,0,0.2,0.4,0.6],[0.25,0,-0.25,-0.5,-0.75,-1.0,-1.25],[0.5,0.25,0,-0.25,-0.5,-0.75],[0.75,0.5,0.25,0,-0.25,-0.5,-0.75],[1.0,0.75,0.5,0.25,0],
  [-2,-1,0,1,2,3],[-2,-1,0,1,2],[-2,0,2],[-2,0,2],[-2,0,2,4]];
const fig6TickLabels = [null,null,null,null,null,
  ['-0.4','-0.2','0.0','0.2','0.4','0.6'],['0.2','0.0','-0.2','-0.5','-0.8','-1.0','-1.2'],['0.5','0.2','0.0','-0.2','-0.5','-0.8'],['0.8','0.5','0.2','0.0','-0.2','-0.5','-0.8'],['1.0','0.8','0.5','0.2','0.0'],
  null,null,null,null,null];
const fig6Titles = ['P\u2080 = (0.0, 0.0)', 'P\u2081 = (\u22120.5, \u22120.5)', 'P\u2082 = (\u22120.5, 0.5)', 'P\u2083 = (0.5, \u22120.5)', 'P\u2084 = (0.5, 0.5)'];
const fig6RowNames = ['x', 'y', 'z'];
const f6ColX = [3482, 3638, 3784, 3926, 4068];
const f6RowY = [99, 226, 351];
const f6W = 118, f6H = 114;
const defs = mk('defs', {});
for (let p = 0; p < 15; p++){
  const r = Math.floor(p / 5), c = p % 5;
  const x0 = f6ColX[c], y0 = f6RowY[r], x1 = x0 + f6W, y1 = y0 + f6H;
  const sx = lin(-1.085, 1.085, x0, x1), sy = lin(fig6YMin[p], fig6YMax[p], y1, y0);
  const cp = mk('clipPath', {id: 'f6c' + p}, defs);
  mk('rect', {x: x0, y: y0, width: f6W, height: f6H}, cp);
  const g = mk('g', {});
  
  
  const gc = mk('g', {'clip-path': 'url(#f6c' + p + ')'}, g);
  [[fig6W95[p], '#fdd4b0', 'band-95'], [fig6W68[p], '#fbb078', 'band-68']].forEach(function(b){
    const up = fig6Y.map(function(y, k){ return [sx(y), sy(fig6Inv[p][k] + b[0][k])]; });
    const lo = fig6Y.map(function(y, k){ return [sx(y), sy(fig6Inv[p][k] - b[0][k])]; }).reverse();
    const band = mk('path', {d: smoothPath(up) + ' L' + lo[0][0].toFixed(1) + ',' + lo[0][1].toFixed(1) + seg(lo) + ' Z', fill: b[1]}, gc);
    
    
  });
  const tl = mk('path', {d: smoothPath(fig6Y.map(function(y, k){ return [sx(y), sy(fig6True[p][k])]; })), fill: 'none', stroke: '#2f7fa8', 'stroke-width': 1.1}, gc);
  
  
  const il = mk('path', {d: smoothPath(fig6Y.map(function(y, k){ return [sx(y), sy(fig6Inv[p][k])]; })), fill: 'none', stroke: '#c0261e', 'stroke-width': 1.1}, gc);
  
  
  const fr = mk('rect', {x: x0, y: y0, width: f6W, height: f6H, fill: 'none', stroke: '#333', 'stroke-width': 0.8}, g);
  
  
  fig6Ticks[p].forEach(function(v, k){
    if (v < fig6YMin[p] || v > fig6YMax[p]) return;
    const tk = mk('line', {x1: x0 - 2.5, y1: sy(v), x2: x0, y2: sy(v), stroke: '#333', 'stroke-width': 0.6}, g);
    
    
    const lab = fig6TickLabels[p] ? fig6TickLabels[p][k] : v.toFixed(1);
    const t = txt(x0 - 3.5, sy(v) + 2.5, lab, {'font-size': 6.5, 'text-anchor': 'end', fill: '#333'}, g);
    
    
  });
  [-1, 0, 1].forEach(function(v){
    const tk = mk('line', {x1: sx(v), y1: y1, x2: sx(v), y2: y1 + 2.5, stroke: '#333', 'stroke-width': 0.6}, g);
    
    
    if (r === 2){
      const t = txt(sx(v), y1 + 11, fmt(v, 0), {'font-size': 7.5, 'text-anchor': 'middle', fill: '#333'}, g);
      
      
    }
  });
  if (r === 2){
    const xt = txt((x0 + x1) / 2, y1 + 24, 'Y', {'font-size': 7.5, 'text-anchor': 'middle', fill: '#333'}, g);
    
    
  }
  if (r === 0){
    const ct = txt((x0 + x1) / 2, 89, fig6Titles[c], {'font-size': 8, 'text-anchor': 'middle', fill: '#222'}, g);
    
    
  }
  if (c === 0){
    const rl = txt(3447, (y0 + y1) / 2 + 3, '\u0393', {'font-size': 10, fill: '#222'}, g);
    
    
    const rs = txt(3454, (y0 + y1) / 2 + 6, fig6RowNames[r], {'font-size': 6.5, 'font-style': 'italic', fill: '#222'}, g);
    
    
  }
}
</script>
</body></html>
